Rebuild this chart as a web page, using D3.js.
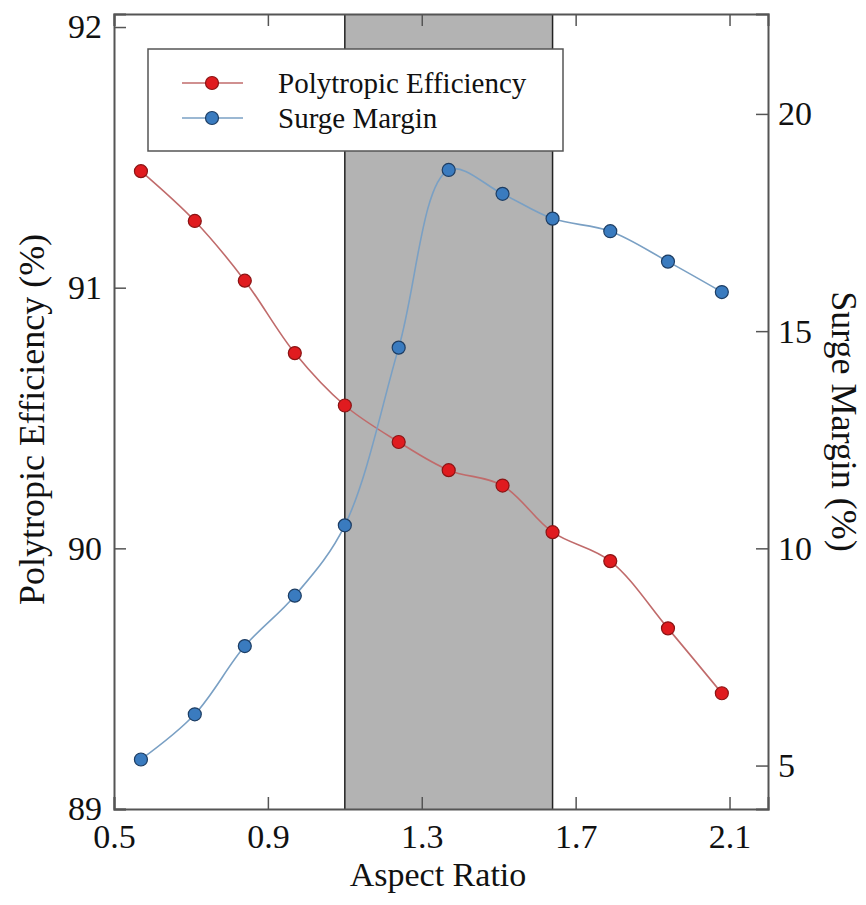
<!DOCTYPE html>
<html>
<head>
<meta charset="utf-8">
<script src="https://d3js.org/d3.v7.min.js"></script>
<style>
  body { margin: 0; background: #fff; }
  svg text { font-family: "Liberation Serif", "Times New Roman", serif; fill: #111; }
</style>
</head>
<body>
<div id="chart"></div>
<script>
// data
const aspectRatio = [0.57, 0.71, 0.84, 0.97, 1.10, 1.24, 1.37, 1.51, 1.64, 1.79, 1.94, 2.08];
const efficiency  = [91.447, 91.256, 91.027, 90.749, 90.548, 90.408, 90.300, 90.241, 90.062, 89.951, 89.693, 89.444];
const surgeMargin = [5.14, 6.18, 7.75, 8.91, 10.53, 14.62, 18.71, 18.16, 17.59, 17.30, 16.60, 15.90];
const shadeRange  = [1.10, 1.64];
const xTicks  = [0.5, 0.9, 1.3, 1.7, 2.1];
const yLTicks = [89, 90, 91, 92];
const yRTicks = [5, 10, 15, 20];
const seriesNames = ['Polytropic Efficiency', 'Surge Margin'];

const width = 866, height = 905;
const plot = {left: 114, right: 768, top: 14, bottom: 809};

const svg = d3.select('#chart').append('svg')
    .attr('width', width).attr('height', height);

const x  = d3.scaleLinear().domain([0.5, 2.2]).range([plot.left, plot.right]);
const yL = d3.scaleLinear().domain([89, 92.05]).range([plot.bottom, plot.top]);
const yR = d3.scaleLinear().domain([4, 22.3]).range([plot.bottom, plot.top]);

const red  = {line: '#c06b6b', fill: '#e01b1f', stroke: '#8a1414'};
const blue = {line: '#7aa0c4', fill: '#3a7bbf', stroke: '#1d3d63'};

// shaded band
svg.append('rect')
    .attr('x', x(shadeRange[0])).attr('y', plot.top)
    .attr('width', x(shadeRange[1]) - x(shadeRange[0]))
    .attr('height', plot.bottom - plot.top)
    .attr('fill', '#b3b3b3');
shadeRange.forEach(v => {
    svg.append('line')
        .attr('x1', x(v)).attr('x2', x(v))
        .attr('y1', plot.top).attr('y2', plot.bottom)
        .attr('stroke', '#222').attr('stroke-width', 1.5);
});

// axes
const tickFont = 34;
const axB = svg.append('g').attr('transform', `translate(0,${plot.bottom})`)
    .call(d3.axisBottom(x).tickValues(xTicks).tickSize(-12).tickPadding(15).tickFormat(d3.format('.1f')));
const axT = svg.append('g').attr('transform', `translate(0,${plot.top})`)
    .call(d3.axisTop(x).tickValues(xTicks).tickSize(-12).tickFormat(''));
const axL = svg.append('g').attr('transform', `translate(${plot.left},0)`)
    .call(d3.axisLeft(yL).tickValues(yLTicks).tickSize(-12).tickPadding(12).tickFormat(d3.format('d')));
const axR = svg.append('g').attr('transform', `translate(${plot.right},0)`)
    .call(d3.axisRight(yR).tickValues(yRTicks).tickSize(-12).tickPadding(10).tickFormat(d3.format('d')));

[axB, axT, axL, axR].forEach(g => {
    g.attr('font-family', null);
    g.select('.domain').attr('stroke', '#555').attr('stroke-width', 2);
    g.selectAll('.tick line').attr('stroke', '#555').attr('stroke-width', 1.5);
    g.selectAll('.tick text').style('font-size', tickFont + 'px')
        .style('font-family', '"Liberation Serif", serif').attr('fill', '#111');
});

// lines
const lineL = d3.line().x((d, i) => x(aspectRatio[i])).y(d => yL(d)).curve(d3.curveCatmullRom.alpha(0.5));
const lineR = d3.line().x((d, i) => x(aspectRatio[i])).y(d => yR(d)).curve(d3.curveCatmullRom.alpha(0.5));

svg.append('path').datum(efficiency).attr('d', lineL)
    .attr('fill', 'none').attr('stroke', red.line).attr('stroke-width', 1.6);
svg.append('path').datum(surgeMargin).attr('d', lineR)
    .attr('fill', 'none').attr('stroke', blue.line).attr('stroke-width', 1.6);

svg.append('g').selectAll('circle').data(efficiency).join('circle')
    .attr('cx', (d, i) => x(aspectRatio[i])).attr('cy', d => yL(d)).attr('r', 6.5)
    .attr('fill', red.fill).attr('stroke', red.stroke).attr('stroke-width', 1.2);
svg.append('g').selectAll('circle').data(surgeMargin).join('circle')
    .attr('cx', (d, i) => x(aspectRatio[i])).attr('cy', d => yR(d)).attr('r', 6.5)
    .attr('fill', blue.fill).attr('stroke', blue.stroke).attr('stroke-width', 1.2);

// legend
const legend = svg.append('g');
legend.append('rect')
    .attr('x', 148).attr('y', 49).attr('width', 415).attr('height', 102)
    .attr('fill', '#fff').attr('stroke', '#555').attr('stroke-width', 1.5);
[red, blue].forEach((c, i) => {
    const yy = 83 + i * 35;
    legend.append('line').attr('x1', 182).attr('x2', 243).attr('y1', yy).attr('y2', yy)
        .attr('stroke', c.line).attr('stroke-width', 1.6);
    legend.append('circle').attr('cx', 212).attr('cy', yy).attr('r', 6.5)
        .attr('fill', c.fill).attr('stroke', c.stroke).attr('stroke-width', 1.2);
    legend.append('text').attr('x', 278).attr('y', yy).attr('dy', '0.35em')
        .style('font-size', '29px').text(seriesNames[i]);
});

// axis titles
svg.append('text')
    .attr('x', 438).attr('y', 886)
    .attr('text-anchor', 'middle').style('font-size', '34px').text('Aspect Ratio');
svg.append('text')
    .attr('transform', `translate(44,${(plot.top + plot.bottom) / 2 + 8}) rotate(-90)`)
    .attr('text-anchor', 'middle').style('font-size', '36px').text('Polytropic Efficiency (%)');
svg.append('text')
    .attr('transform', `translate(832,${(plot.top + plot.bottom) / 2 + 10}) rotate(90)`)
    .attr('text-anchor', 'middle').style('font-size', '36px').text('Surge Margin (%)');
</script>
</body>
</html>
